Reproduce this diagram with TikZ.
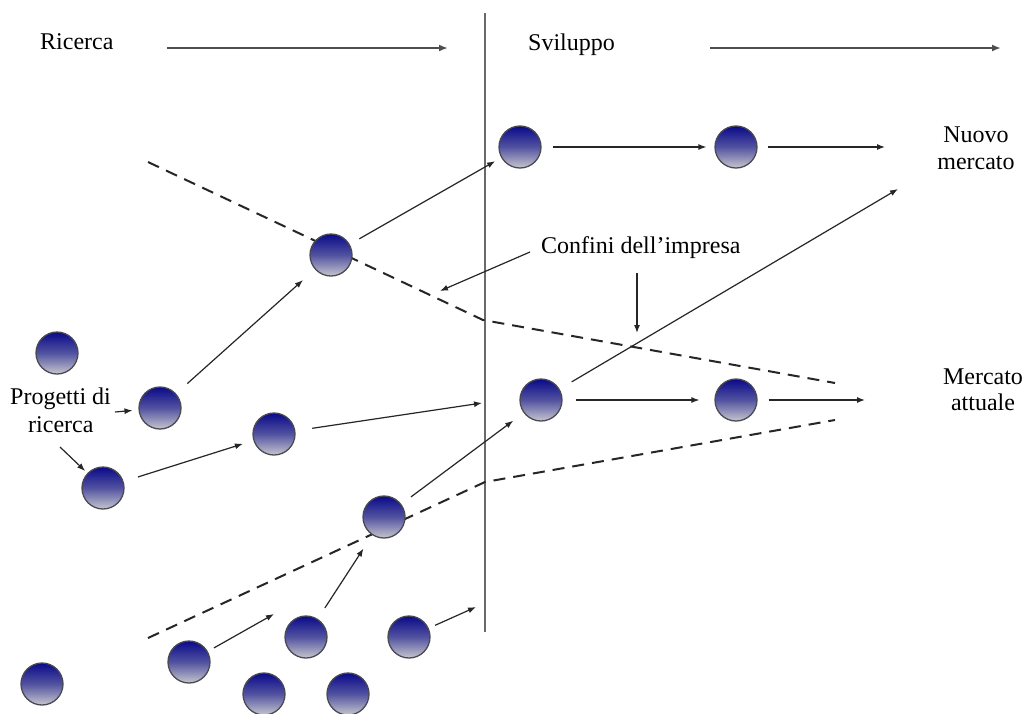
\documentclass[tikz,border=0pt]{standalone}
\usepackage{fontspec}
\setmainfont{Liberation Serif}
\usetikzlibrary{arrows.meta}
\definecolor{ballTop}{HTML}{0A0A8A}
\definecolor{ballMid}{HTML}{5252A0}
\definecolor{ballBottom}{HTML}{C6C6CE}
\definecolor{ballEdge}{HTML}{4A4A52}
\definecolor{phaseGray}{HTML}{4E4E4E}
\definecolor{dividerGray}{HTML}{6A6A6A}
\begin{document}
\begin{tikzpicture}[x=1pt,y=-1pt,
  ball/.style={circle, draw=ballEdge, line width=1.3pt, minimum size=42pt, inner sep=0pt,
    top color=ballTop, bottom color=ballBottom, middle color=ballMid},
  conn/.style={-{Latex[length=8pt,width=6pt]}, line width=1.2pt, draw=black!85},
  phase/.style={-{Latex[length=9pt,width=7pt]}, line width=2.4pt, draw=phaseGray},
  bound/.style={line width=2pt, dash pattern=on 12pt off 8pt, draw=black!85},
  divider/.style={line width=1.8pt, draw=dividerGray},
  lbl/.style={font=\fontsize{24}{27}\selectfont, inner sep=0pt}
]
\useasboundingbox[fill=white] (0,0) rectangle (1026,713);

% phase headings
\node[lbl, anchor=base west] (ric) at (40,49) {Ricerca};
\node[lbl, anchor=base west] (svi) at (528,50) {Sviluppo};
\coordinate (ricA) at (167,48);
\coordinate (ricB) at (448,48);
\coordinate (sviA) at (710,48);
\coordinate (sviB) at (1001,48);
\draw[phase] (ricA) -- (ricB);
\draw[phase] (sviA) -- (sviB);

% research / development divider
\coordinate (divTop) at (485,13);
\coordinate (divBot) at (485,632);
\draw[divider] (divTop) -- (divBot);

% firm boundaries (dashed)
\coordinate (ub1) at (148,162);
\coordinate (ub2) at (483,320);
\coordinate (ub3) at (835,383);
\coordinate (lb1) at (148,638);
\coordinate (lb2) at (485,482);
\coordinate (lb3) at (835,420);
\draw[bound] (ub1) -- (ub2) -- (ub3);
\draw[bound] (lb1) -- (lb2) -- (lb3);

% right-hand labels
\node[lbl, anchor=base] (nuovo) at (976,142) {Nuovo};
\node[lbl, anchor=base] (nuovoM) at (976,169) {mercato};
\node[lbl, anchor=base] (merc) at (983,384) {Mercato};
\node[lbl, anchor=base] (att) at (983,410) {attuale};
\node[lbl, anchor=base west] (conf) at (541,253) {Confini dell’impresa};
\node[lbl, anchor=base west] (prog) at (10,404) {Progetti di};
\node[lbl, anchor=base west] (progR) at (28,432) {ricerca};

% projects
\node[ball] (c1) at (520,147) {};
\node[ball] (c2) at (736,147) {};
\node[ball] (c3) at (331,255) {};
\node[ball] (c4) at (57,353) {};
\node[ball] (c5) at (160,408) {};
\node[ball] (c6) at (103,488) {};
\node[ball] (c7) at (274,434) {};
\node[ball] (c8) at (541,400) {};
\node[ball] (c9) at (736,400) {};
\node[ball] (c10) at (384,517) {};
\node[ball] (c11) at (306,637) {};
\node[ball] (c12) at (409,637) {};
\node[ball] (c13) at (189,662) {};
\node[ball] (c14) at (264,694) {};
\node[ball] (c15) at (348,694) {};
\node[ball] (c16) at (42,684) {};

% free ends of connectors
\coordinate (outTop) at (885,147);
\coordinate (outMid) at (865,400);
\coordinate (outNew) at (898,189);
\coordinate (atDiv) at (482,403);
\coordinate (end13) at (274,614);
\coordinate (end12) at (476,607);
\coordinate (progTail) at (115,412);
\coordinate (ricTail) at (60,447);
\coordinate (confTailA) at (530,252);
\coordinate (confHeadA) at (440,291);
\coordinate (confTailB) at (637,273);
\coordinate (confHeadB) at (637,333);

% project paths
\draw[conn, shorten <=15pt, shorten >=16pt] (c5) -- (c3);
\draw[conn, shorten <=11pt, shorten >=7pt] (c3) -- (c1);
\draw[conn, shorten <=11pt, shorten >=8pt] (c1) -- (c2);
\draw[conn, shorten <=10pt] (c2) -- (outTop);
\draw[conn, shorten <=15pt, shorten >=11pt] (c6) -- (c7);
\draw[conn, shorten <=17pt] (c7) -- (atDiv);
\draw[conn, shorten <=12pt, shorten >=13pt] (c10) -- (c8);
\draw[conn, shorten <=13pt, shorten >=15pt] (c8) -- (c9);
\draw[conn, shorten <=11pt] (c9) -- (outMid);
\draw[conn, shorten <=14pt] (c8) -- (outNew);
\draw[conn, shorten <=13pt, shorten >=16pt] (c11) -- (c10);
\draw[conn, shorten <=7pt] (c13) -- (end13);
\draw[conn, shorten <=7pt] (c12) -- (end12);
\draw[conn, shorten >=6pt] (progTail) -- (c5);
\draw[conn, shorten >=3pt] (ricTail) -- (c6);

% pointers to the firm boundaries
\draw[conn] (confTailA) -- (confHeadA);
\draw[conn] (confTailB) -- (confHeadB);
\end{tikzpicture}
\end{document}
